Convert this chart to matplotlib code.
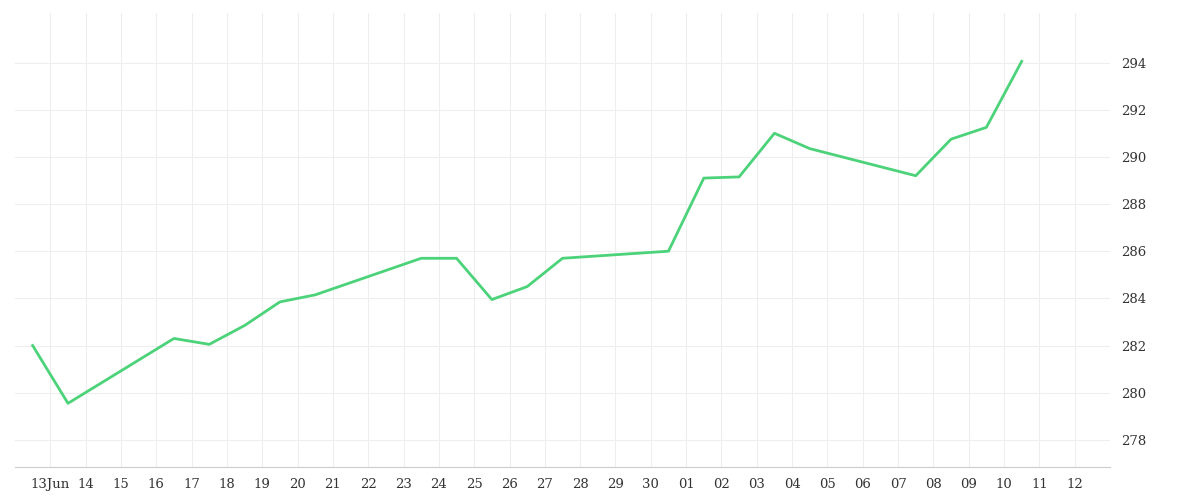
import matplotlib
matplotlib.use("Agg")
import matplotlib.pyplot as plt
import numpy as np

# day offsets relative to 13 Jun (0 = 13 Jun 00:00)
day_offsets = [-0.5, 0.5, 3.5, 4.5, 5.5, 6.5, 7.5, 10.5, 11.5, 12.5, 13.5, 14.5, 17.5,
               18.5, 19.5, 20.5, 21.5, 24.5, 25.5, 26.5, 27.5]
values = [282.0, 279.55, 282.3, 282.05, 282.85, 283.85, 284.15, 285.7, 285.7, 283.95,
          284.5, 285.7, 286.0, 289.1, 289.15, 291.0, 290.35, 289.2, 290.75, 291.25, 294.05]
tick_labels = ["13Jun"] + [str(d) for d in range(14, 31)] + ["%02d" % d for d in range(1, 13)]

fig = plt.figure(figsize=(12, 5), dpi=100)
ax = fig.add_axes([0.0125, 0.066, 0.9125, 0.908])
ax.plot(day_offsets, values, color="#4cd37a", lw=2)
ax.set_xlim(-1, 30)
ax.set_ylim(276.85, 296.1)
ax.set_xticks(range(len(tick_labels)))
ax.set_xticklabels(tick_labels)
ax.set_yticks(range(278, 296, 2))
ax.yaxis.tick_right()
ax.grid(True, color="#eeeeee", lw=0.8)
for s in ["top", "left", "right"]:
    ax.spines[s].set_visible(False)
ax.spines["bottom"].set_color("#cccccc")
ax.tick_params(length=0, labelsize=9.5, colors="#333333", pad=8)
for t in ax.get_xticklabels() + ax.get_yticklabels():
    t.set_family("DejaVu Serif")
fig.savefig("out.png")
